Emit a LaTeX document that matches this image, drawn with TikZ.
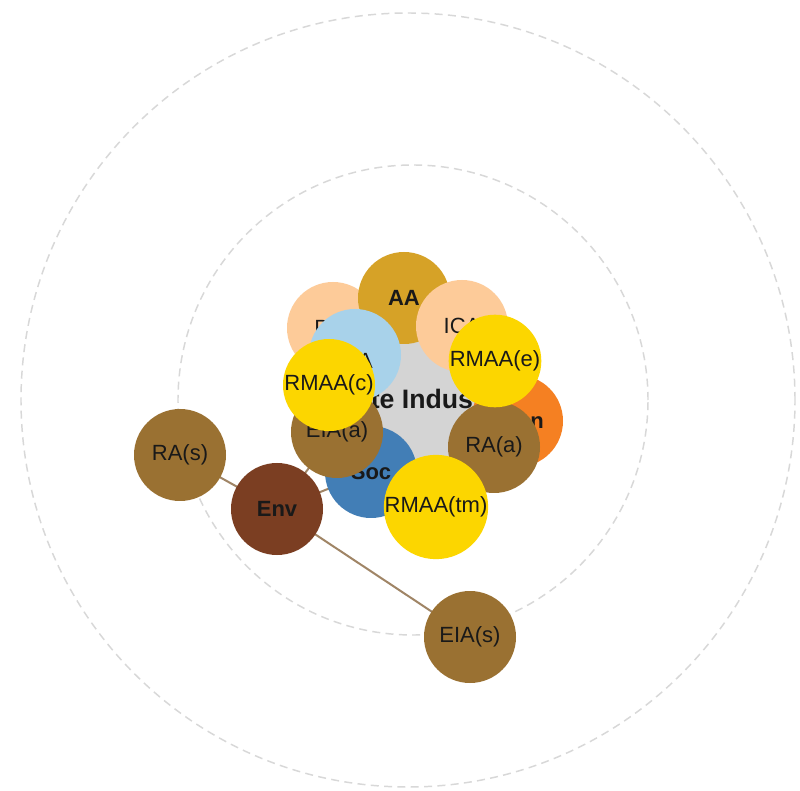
\documentclass[tikz,border=0pt]{standalone}
\usepackage{fontspec}
\setmainfont{Liberation Sans}
\definecolor{gold}{HTML}{D6A227}
\definecolor{peach}{HTML}{FDCB99}
\definecolor{lblue}{HTML}{A8D2EA}
\definecolor{yel}{HTML}{FCD600}
\definecolor{brn}{HTML}{9A7132}
\definecolor{env}{HTML}{7B3E22}
\definecolor{socb}{HTML}{427EB6}
\definecolor{orng}{HTML}{F58022}
\definecolor{grayc}{HTML}{D4D4D4}
\definecolor{edgec}{HTML}{A08566}
\definecolor{ring}{HTML}{D8D8D8}
\begin{document}
\begin{tikzpicture}[x=0.75pt,y=-0.75pt,
  nd/.style={circle,inner sep=0pt,minimum size=69pt,font=\fontsize{16.5}{18}\selectfont,text=black!90},
  bnd/.style={nd,font=\fontsize{16.5}{18}\selectfont\bfseries},
  ringline/.style={draw=ring,line width=1.1pt,dash pattern=on 6pt off 4pt},
  edge/.style={draw=edgec,line width=1.5pt}]
\useasboundingbox (0,0) rectangle (800,791);
\fill[white] (0,0) rectangle (800,791);
\draw[ringline] (408,400) circle[radius=290.25pt];
\draw[ringline] (413,400) circle[radius=176.25pt];
% node positions
\coordinate (pW) at (412,402);
\coordinate (pEnv) at (277,509);
\coordinate (pRAs) at (180,455);
\coordinate (pEIAs) at (470,637);
\coordinate (pEIAa) at (337,432);
\coordinate (pSoc) at (371,472);
% edges
\draw[edge] (pEnv) -- (pRAs);
\draw[edge] (pEnv) -- (pEIAs);
\draw[edge] (pEnv) -- (pEIAa);
\draw[edge] (pEnv) -- (pSoc);
% nodes
\node[circle,fill=grayc,minimum size=90pt,inner sep=0pt,font=\fontsize{20}{22}\selectfont\bfseries,text=black!90] (W) at (pW) {Waste Industry};
\node[nd,fill=peach] (PRA) at (333,328) {\hspace*{6pt}PRA};
\node[bnd,fill=gold] (AA) at (404,298) {AA};
\node[nd,fill=peach] (ICA) at (462,326) {ICA};
\node[nd,fill=lblue] (SIA) at (355,355) {\smash{\raisebox{-10pt}{SIA}}};
\node[bnd,fill=orng] (Econ) at (517,421) {Econ};
\node[nd,fill=brn] (RAa) at (494,447) {RA(a)};
\node[bnd,fill=socb] (Soc) at (pSoc) {Soc};
\node[nd,fill=brn] (EIAa) at (pEIAa) {EIA(a)};
\node[nd,fill=yel] (RMAAc) at (329,385) {\raisebox{1.5pt}{RMAA(c)}};
\node[nd,fill=yel] (RMAAe) at (495,361) {RMAA(e)};
\node[nd,fill=yel] (RMAAtm) at (436,507) {RMAA(tm)};
\node[bnd,fill=env] (Env) at (pEnv) {Env};
\node[nd,fill=brn] (RAs) at (pRAs) {RA(s)};
\node[nd,fill=brn] (EIAs) at (pEIAs) {EIA(s)};
\end{tikzpicture}
\end{document}
